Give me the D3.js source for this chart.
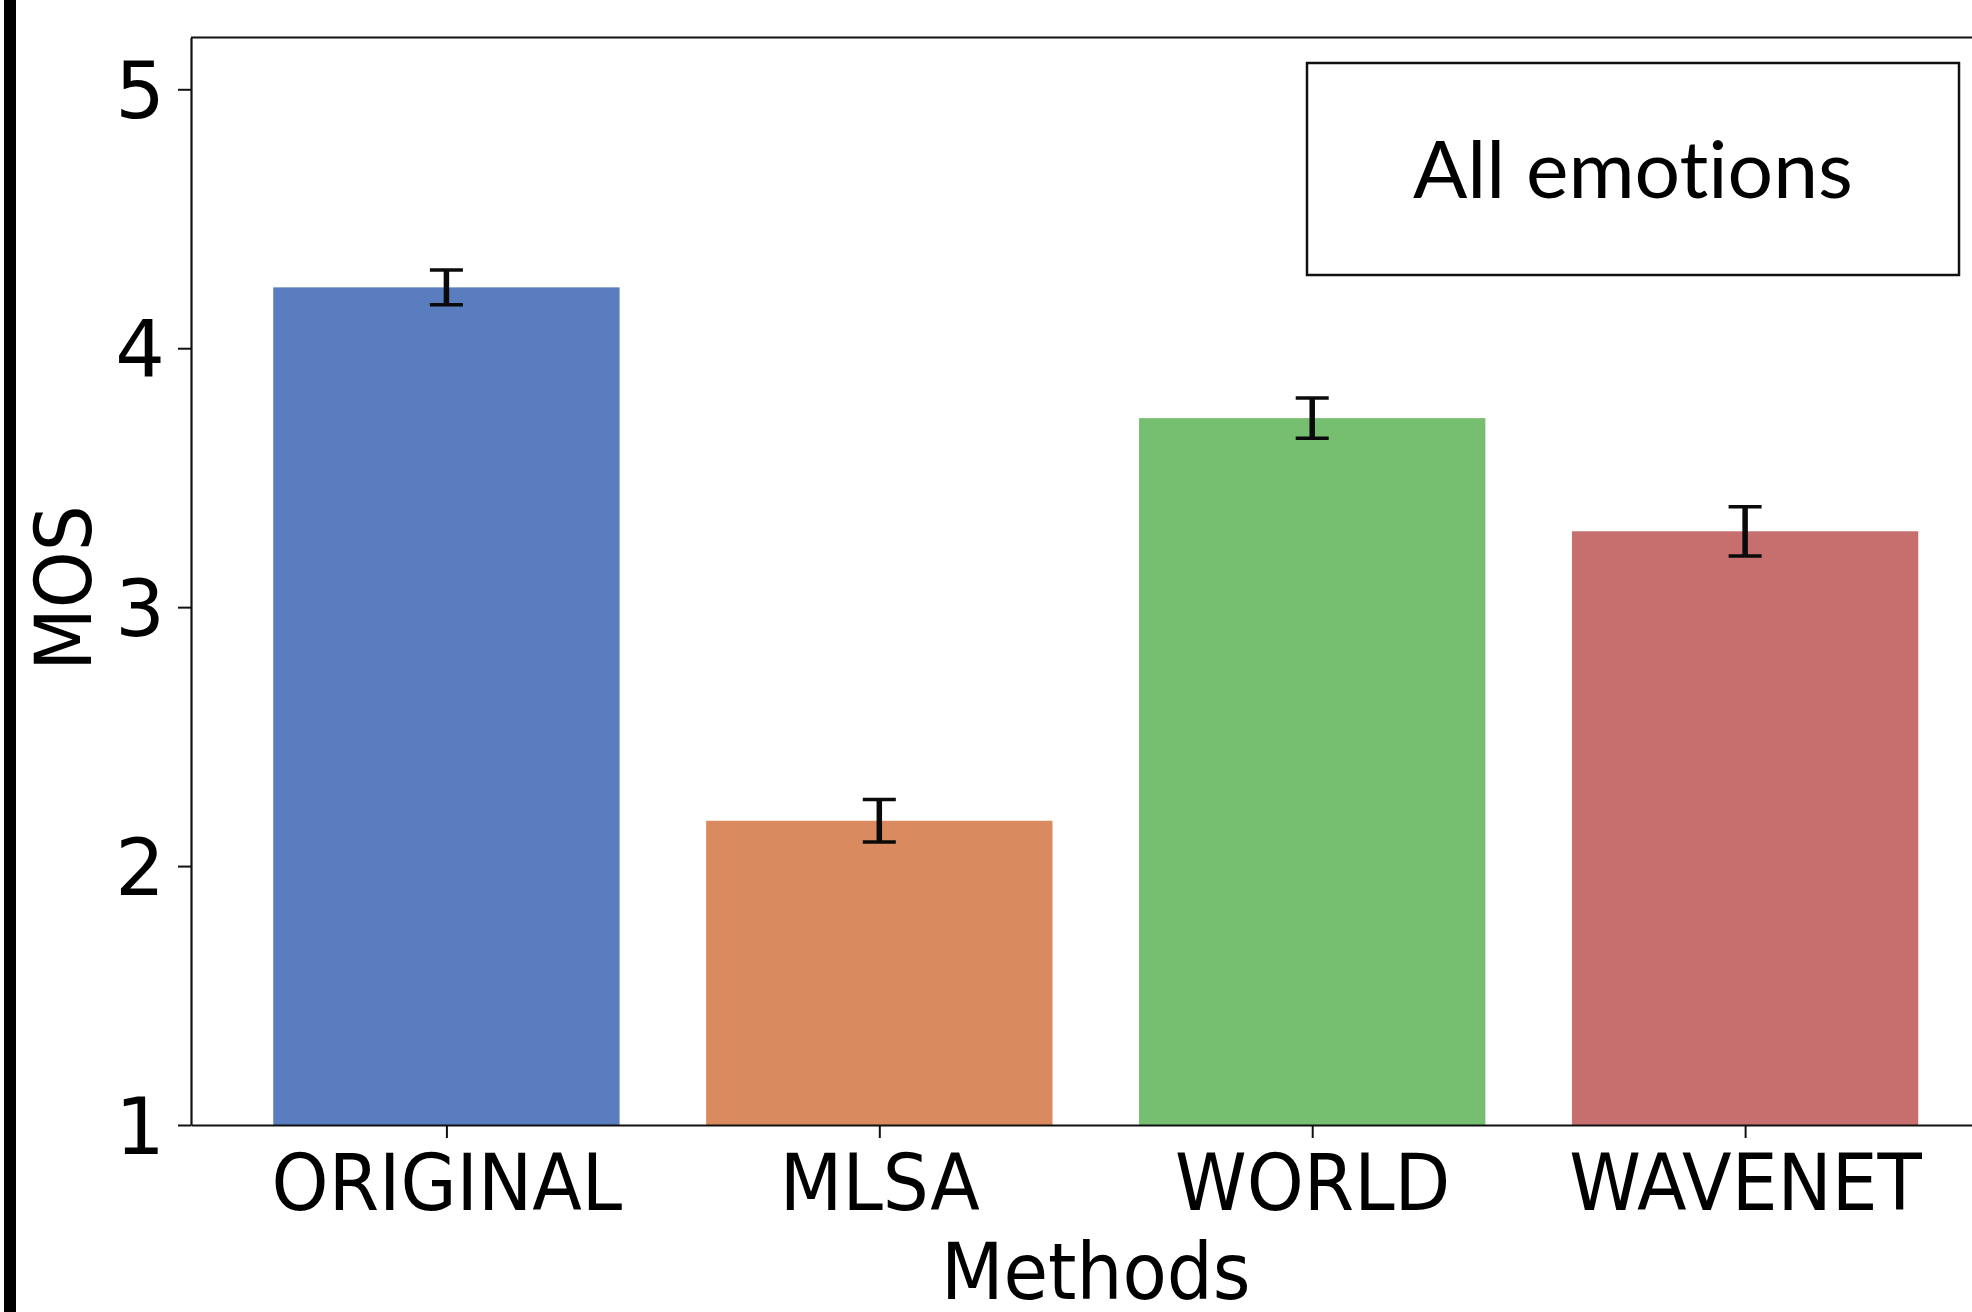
<!DOCTYPE html>
<html>
<head>
<meta charset="utf-8">
<script src="https://cdn.jsdelivr.net/npm/d3@7"></script>
<style>
  html, body { margin: 0; padding: 0; background: #fff; }
  svg { display: block; }
  text { font-variant-ligatures: none; font-feature-settings: "liga" 0, "clig" 0; }
</style>
</head>
<body>
<svg id="chart" width="1972" height="1312"></svg>
<script>
// ---- data ----
const methods = ["ORIGINAL", "MLSA", "WORLD", "WAVENET"];
const mosValues = [4.235, 2.175, 3.73, 3.293];
const mosErrors = [0.067, 0.082, 0.078, 0.095];
const barColors = ["#597dbf", "#d98a5f", "#76bf71", "#c76e6e"];
const yTicks = [1, 2, 3, 4, 5];
const yLabel = "MOS";
const xLabel = "Methods";
const boxLabel = "All emotions";

// ---- layout ----
const W = 1972, H = 1312;
const svg = d3.select("#chart");
const FONT = "'DejaVu Sans', sans-serif";
const FS = 78;
const squeeze = 0.93;

// left black frame bar
svg.append("rect").attr("x", 4).attr("y", 0).attr("width", 12).attr("height", H).attr("fill", "#000");

const idx = methods.map((d, i) => i);
const x = d3.scaleLinear().domain([-0.59, 3.59]).range([191, 191 + 4.18 * 432.9]);
const y = d3.scaleLinear().domain([1, 5.2]).range([1125, 37.5]);
const barW = 0.8;

const g = svg.append("g");

// bars
g.selectAll("rect.bar").data(idx).join("rect")
  .attr("class", "bar")
  .attr("x", i => x(i - barW / 2))
  .attr("width", i => x(i + barW / 2) - x(i - barW / 2))
  .attr("y", i => y(mosValues[i]))
  .attr("height", i => y(1) - y(mosValues[i]))
  .attr("fill", i => barColors[i]);

// error bars
const capHalf = 16.5;
const eg = g.selectAll("g.err").data(idx).join("g").attr("class", "err");
eg.append("line")
  .attr("x1", i => x(i)).attr("x2", i => x(i))
  .attr("y1", i => y(mosValues[i] - mosErrors[i]))
  .attr("y2", i => y(mosValues[i] + mosErrors[i]))
  .attr("stroke", "#0a0a0a").attr("stroke-width", 5.5);
eg.append("line")
  .attr("x1", i => x(i) - capHalf).attr("x2", i => x(i) + capHalf)
  .attr("y1", i => y(mosValues[i] + mosErrors[i]))
  .attr("y2", i => y(mosValues[i] + mosErrors[i]))
  .attr("stroke", "#0a0a0a").attr("stroke-width", 3.5);
eg.append("line")
  .attr("x1", i => x(i) - capHalf).attr("x2", i => x(i) + capHalf)
  .attr("y1", i => y(mosValues[i] - mosErrors[i]))
  .attr("y2", i => y(mosValues[i] - mosErrors[i]))
  .attr("stroke", "#0a0a0a").attr("stroke-width", 3.5);

// top spine
svg.append("line")
  .attr("x1", x.range()[0]).attr("x2", x.range()[1])
  .attr("y1", y.range()[1]).attr("y2", y.range()[1])
  .attr("stroke", "#111").attr("stroke-width", 2.2);

// y axis
const yAxis = svg.append("g")
  .attr("transform", `translate(${x.range()[0]},0)`)
  .call(d3.axisLeft(y).tickValues(yTicks).tickFormat(d3.format("d")).tickSize(13).tickSizeOuter(0));
yAxis.select(".domain").attr("stroke", "#111").attr("stroke-width", 2.2);
yAxis.selectAll(".tick line").attr("stroke", "#111").attr("stroke-width", 2);
yAxis.selectAll(".tick text")
  .attr("x", -26).attr("dy", "0.364em")
  .attr("font-family", FONT).attr("font-size", FS).attr("fill", "#000");

// x axis
const xAxis = svg.append("g")
  .attr("transform", `translate(0,${y(1)})`)
  .call(d3.axisBottom(x).tickValues(idx).tickFormat(i => methods[i]).tickSize(13).tickSizeOuter(0));
xAxis.select(".domain").attr("stroke", "#111").attr("stroke-width", 2.2);
xAxis.selectAll(".tick line").attr("stroke", "#111").attr("stroke-width", 2);
xAxis.selectAll(".tick text")
  .attr("y", 85).attr("dy", 0)
  .attr("transform", `scale(${squeeze},1)`)
  .attr("font-family", FONT).attr("font-size", FS).attr("fill", "#000");

// axis titles
svg.append("text")
  .attr("transform", `translate(${(x.range()[0] + x.range()[1]) / 2},1299) scale(${squeeze},1)`)
  .attr("text-anchor", "middle")
  .attr("font-family", FONT).attr("font-size", FS).attr("fill", "#000")
  .text(xLabel);

svg.append("text")
  .attr("transform", `translate(91,588) rotate(-90) scale(${squeeze},1)`)
  .attr("text-anchor", "middle")
  .attr("font-family", FONT).attr("font-size", FS).attr("fill", "#000")
  .text(yLabel);

// annotation box
const bx0 = 1307, bx1 = 1959, by0 = 63, by1 = 275;
svg.append("rect")
  .attr("x", bx0).attr("y", by0).attr("width", bx1 - bx0).attr("height", by1 - by0)
  .attr("fill", "#fff").attr("stroke", "#111").attr("stroke-width", 2.5);
const bt = svg.append("text")
  .attr("x", (bx0 + bx1) / 2).attr("y", 198)
  .attr("text-anchor", "middle")
  .attr("font-family", "Lato, 'Open Sans', sans-serif").attr("font-size", 79).attr("fill", "#000")
  .text(boxLabel);
const tw = bt.node().getComputedTextLength();
const targetW = 440;
bt.attr("transform", `translate(${(bx0 + bx1) / 2},0) scale(${targetW / tw},1) translate(${-(bx0 + bx1) / 2},0)`);
</script>
</body>
</html>
